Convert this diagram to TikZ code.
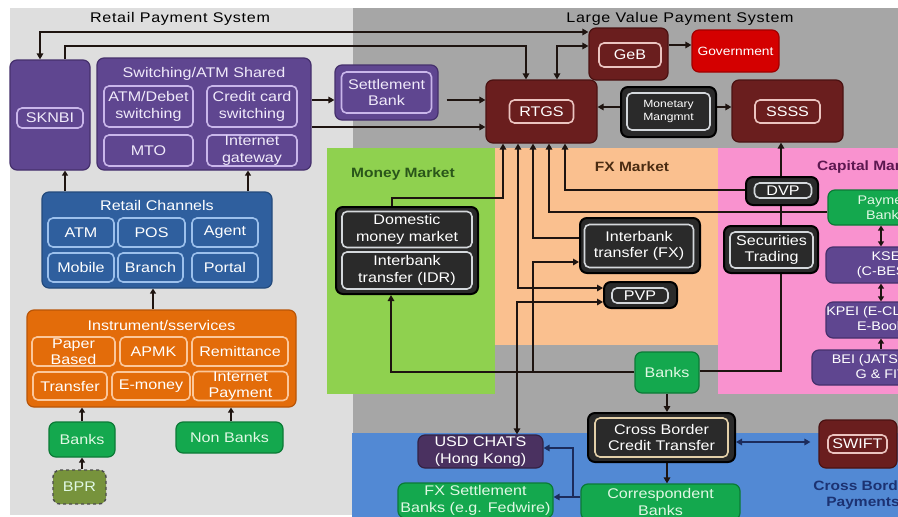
\documentclass[tikz,border=0pt]{standalone}
\usepackage{fontspec}
\setmainfont[FakeStretch=1.15]{Liberation Sans}
\newfontfamily\ttlfam[FakeStretch=1.15,LetterSpace=5]{Liberation Sans}
\usetikzlibrary{arrows.meta}

\newcommand\lblfont{\fontsize{14}{16.5}\selectfont}
\newcommand\cmfont{\fontsize{12.5}{15}\selectfont}
\newcommand\smfont{\fontsize{10.5}{12.5}\selectfont}
\newcommand\ttlfont{\ttlfam\fontsize{14}{16}\selectfont}
\newcommand\secfont{\bfseries\fontsize{13.5}{16}\selectfont}

\definecolor{pgray}{HTML}{DEDEDE}
\definecolor{dgray}{HTML}{A6A6A6}
\definecolor{mmgreen}{HTML}{8FD14F}
\definecolor{fxpeach}{HTML}{FAC08F}
\definecolor{cmpink}{HTML}{F992CF}
\definecolor{cbblue}{HTML}{5289D4}
\definecolor{purp}{HTML}{5F4690}
\definecolor{purpline}{HTML}{C9B6EA}
\definecolor{purpdark}{HTML}{45306C}
\definecolor{purptext}{HTML}{F0EAFA}
\definecolor{maroon}{HTML}{6A1E1E}
\definecolor{maroonline}{HTML}{EBC4C0}
\definecolor{maroondark}{HTML}{4A1212}
\definecolor{darkbox}{HTML}{2A2A2A}
\definecolor{darkline}{HTML}{D4D8DC}
\definecolor{cbline}{HTML}{E2CFA8}
\definecolor{gbox}{HTML}{14A84E}
\definecolor{gboxline}{HTML}{0B7A36}
\definecolor{gtext}{HTML}{E0F8E4}
\definecolor{rcblue}{HTML}{2F5F9E}
\definecolor{rcdark}{HTML}{234A7C}
\definecolor{rcline}{HTML}{9CC0EC}
\definecolor{orng}{HTML}{E36C0A}
\definecolor{ordark}{HTML}{B85508}
\definecolor{orline}{HTML}{FBC79B}
\definecolor{bprgreen}{HTML}{77933C}
\definecolor{govred}{HTML}{D40000}
\definecolor{govdark}{HTML}{A00000}
\definecolor{usdpurp}{HTML}{4A3160}
\definecolor{navy}{HTML}{1C2C5C}
\definecolor{lineblk}{HTML}{1E1410}
\definecolor{mmtext}{HTML}{2A561A}
\definecolor{fxtext}{HTML}{4A2C12}
\definecolor{cmtext}{HTML}{5C1850}
\definecolor{cbtext}{HTML}{1C3272}

\pgfdeclarelayer{bg}
\pgfdeclarelayer{mid}
\pgfsetlayers{bg,mid,main}

\tikzset{
  sz/.style 2 args={minimum width=#1, minimum height=#2},
  nbox/.style={rounded corners=7pt, inner sep=0pt, align=center, font=\lblfont, text=white, line width=1.2pt},
  ibox/.style={rounded corners=5pt, inner sep=0pt, align=center, font=\lblfont, text=white, line width=1.6pt},
  pout/.style={nbox, fill=purp, draw=purpdark},
  pin/.style={ibox, fill=purp, draw=purpline, text=purptext},
  mout/.style={nbox, fill=maroon, draw=maroondark},
  marin/.style={ibox, fill=maroon, draw=maroonline},
  dout/.style={nbox, fill=darkbox, draw=black, line width=2pt},
  din/.style={ibox, fill=darkbox, draw=darkline},
  gbx/.style={nbox, fill=gbox, draw=gboxline, text=gtext},
  bout/.style={nbox, fill=rcblue, draw=rcdark},
  bin/.style={ibox, fill=rcblue, draw=rcline},
  oout/.style={nbox, fill=orng, draw=ordark},
  oin/.style={ibox, fill=orng, draw=orline},
  cmbox/.style={nbox, fill=purp, draw=purpdark, font=\cmfont},
  conn/.style={line width=1.6pt, draw=lineblk},
  arr/.style={conn, -{Triangle[length=6pt,width=6.5pt]}},
  arrb/.style={conn, {Triangle[length=6pt,width=6.5pt]}-{Triangle[length=6pt,width=6.5pt]}},
  arrsm/.style={conn, -{Triangle[length=5pt,width=6pt]}},
  arrbsm/.style={conn, {Triangle[length=5pt,width=6pt]}-{Triangle[length=5pt,width=6pt]}},
  ttl/.style={font=\ttlfont, text=black, inner sep=0pt},
  sec/.style={font=\secfont, inner sep=0pt},
  lbl/.style={font=\lblfont, text=white, inner sep=0pt},
}

\begin{document}
\begin{tikzpicture}[x=1pt,y=-1pt]
\useasboundingbox (0,0) rectangle (898,517);
\clip (0,0) rectangle (898,517);

% ---------- regions ----------
\begin{pgfonlayer}{bg}
\fill[white] (0,0) rectangle (898,517);
\fill[pgray] (10,8) rectangle (353,515);
\fill[dgray] (353,8) rectangle (898,517);
\fill[mmgreen] (327,148) rectangle (495,394);
\fill[fxpeach] (495,148) rectangle (718,345);
\fill[cmpink] (718,148) rectangle (898,394);
\fill[cbblue] (352,433) rectangle (898,517);
\end{pgfonlayer}

% ---------- titles ----------
\node[ttl] (tretail) at (180,19) {Retail Payment System};
\node[ttl] (tlarge) at (680,19) {Large Value Payment System};
\node[sec, text=mmtext] (tmm) at (403,174) {Money Market};
\node[sec, text=fxtext] (tfx) at (632,167) {FX Market};
\node[sec, text=cmtext, anchor=west] (tcm) at (817,167) {Capital Market};
\node[sec, text=cbtext, align=center] (tcb) at (863,495) {Cross Border\\Payments};

% ---------- retail payment system ----------
\node[pout, sz={80pt}{110pt}] (sknbi) at (50,115) {};
\node[pin, sz={66pt}{20pt}] (sknbiin) at (50,118) {SKNBI};

\node[pout, sz={214pt}{112pt}] (switch) at (204,114) {};
\node[lbl, text=purptext] (switchttl) at (204,74) {Switching/ATM Shared};
\node[pin, sz={89pt}{41pt}] (atmdeb) at (148.5,106.5) {ATM/Debet\\switching};
\node[pin, sz={90pt}{41pt}] (ccsw) at (252,106.5) {Credit card\\switching};
\node[pin, sz={89pt}{31pt}] (mto) at (148.5,150.5) {MTO};
\node[pin, sz={90pt}{31pt}] (igw) at (252,150.5) {Internet\\gateway};

\node[pout, sz={103pt}{55pt}] (settle) at (386.5,92.5) {};
\node[pin, sz={90pt}{41pt}] (settlein) at (386.5,92.5) {Settlement\\Bank};

\node[bout, sz={230pt}{96pt}] (rchan) at (157,240) {};
\node[lbl] (rchanttl) at (157,205) {Retail Channels};
\node[bin, sz={66pt}{29pt}] (atm) at (81,232.5) {ATM};
\node[bin, sz={67pt}{29pt}] (pos) at (151.5,232.5) {POS};
\node[bin, sz={66pt}{29pt}] (agent) at (225,232.5) {Agent};
\node[bin, sz={66pt}{29pt}] (mobile) at (81,267.5) {Mobile};
\node[bin, sz={65pt}{29pt}] (branch) at (150.5,267.5) {Branch};
\node[bin, sz={66pt}{29pt}] (portal) at (225,267.5) {Portal};

\node[oout, sz={269pt}{97pt}] (instr) at (161.5,358.5) {};
\node[lbl] (instrttl) at (161.5,325) {Instrument/sservices};
\node[oin, sz={83pt}{29pt}] (paper) at (73.5,351.5) {Paper\\Based};
\node[oin, sz={67pt}{29pt}] (apmk) at (153.5,351.5) {APMK};
\node[oin, sz={96pt}{29pt}] (remit) at (240,351.5) {Remittance};
\node[oin, sz={74pt}{28pt}] (transfer) at (70,386) {Transfer};
\node[oin, sz={78pt}{28pt}] (emoney) at (151,386) {E-money};
\node[oin, sz={95pt}{28pt}] (ipay) at (240.5,386) {Internet\\Payment};

\node[gbx, sz={66pt}{35pt}] (banksl) at (82,439.5) {Banks};
\node[gbx, sz={107pt}{31pt}] (nonbanks) at (229.5,437.5) {Non Banks};
\node[nbox, fill=bprgreen, draw=black!70, dashed, line width=1.4pt, text=gtext, sz={53pt}{34pt}] (bpr) at (79.5,487) {BPR};

% ---------- large value payment system ----------
\node[mout, sz={111pt}{63pt}] (rtgs) at (541.5,111.5) {};
\node[marin, sz={64pt}{23pt}] (rtgsin) at (541.5,111.5) {RTGS};
\node[mout, sz={79pt}{52pt}] (geb) at (628.5,54) {};
\node[marin, sz={62pt}{24pt}] (gebin) at (630,55) {GeB};
\node[nbox, fill=govred, draw=govdark, font=\fontsize{12}{14}\selectfont, sz={87pt}{42pt}] (gov) at (735.5,51) {Government};
\node[dout, sz={95pt}{50pt}] (mon) at (668.5,112) {};
\node[din, font=\smfont, sz={83pt}{37pt}] (monin) at (668.5,111.5) {Monetary\\Mangmnt};
\node[mout, sz={111pt}{62pt}] (ssss) at (787.5,111) {};
\node[marin, sz={65pt}{23pt}] (ssssin) at (787.5,111.5) {SSSS};

% ---------- money market ----------
\node[dout, sz={142pt}{87pt}] (dom) at (407,250.5) {};
\node[din, sz={130pt}{36pt}] (domin) at (407,229.5) {Domestic\\money market};
\node[din, sz={130pt}{37pt}] (idr) at (407,270.5) {Interbank\\transfer (IDR)};

% ---------- FX market ----------
\node[dout, sz={120pt}{55pt}] (fxib) at (640,245.5) {};
\node[din, sz={109pt}{43pt}] (fxibin) at (639,246) {Interbank\\transfer (FX)};
\node[dout, sz={73pt}{26pt}] (pvp) at (640.5,295) {};
\node[din, sz={56pt}{15pt}] (pvpin) at (640,295.5) {PVP};
\node[gbx, sz={64pt}{41pt}] (banksfx) at (667,372.5) {Banks};

% ---------- capital market ----------
\node[dout, sz={72pt}{28pt}] (dvp) at (782,191) {};
\node[din, sz={57pt}{15pt}] (dvpin) at (783,190.5) {DVP};
\node[dout, sz={94pt}{47pt}] (sectr) at (771,249.5) {};
\node[din, sz={83pt}{36pt}] (sectrin) at (771.5,250) {Securities\\Trading};
\node[gbx, font=\cmfont, sz={116pt}{35pt}] (payb) at (886,207.5) {Payment\\Banks};
\node[cmbox, sz={124pt}{36pt}] (ksei) at (888,265) {KSEI\\(C-BEST)};
\node[cmbox, sz={114pt}{36pt}] (kpei) at (883,320) {KPEI (E-CLEARS\\E-Book)};
\node[cmbox, sz={152pt}{35pt}] (bei) at (888,367.5) {BEI (JATS NEXT-\\G \& FITS)};

% ---------- cross border ----------
\node[dout, sz={147pt}{49pt}] (cbct) at (661.5,437.5) {};
\node[din, draw=cbline, sz={133pt}{39pt}] (cbctin) at (661.5,437.5) {Cross Border\\Credit Transfer};
\node[gbx, sz={159pt}{36pt}] (corr) at (660.5,502) {Correspondent\\Banks};
\node[mout, sz={78pt}{48pt}] (swift) at (858,444) {};
\node[marin, sz={59pt}{18pt}] (swiftin) at (857.5,444) {SWIFT};
\node[nbox, fill=usdpurp, draw=usdpurp!70!black, sz={125pt}{33pt}] (usd) at (480.5,451.5) {USD CHATS\\(Hong Kong)};
\node[gbx, sz={155pt}{35pt}] (fxset) at (475.5,500.5) {FX Settlement\\Banks (e.g. Fedwire)};

\coordinate (jfx) at (533,372);
\coordinate (jcb) at (573,497);

% ---------- connectors ----------
\begin{pgfonlayer}{mid}
\draw[arrb] (sknbi.north -| 40,0) |- (geb.west |- 0,32);
\draw[arr] (sknbi.north -| 65,0) |- (526,46) -- (rtgs.north -| 526,0);
\draw[arrb] (rtgs.north -| 557,0) |- (geb.west |- 0,46);
\draw[arr] (switch.east |- 0,100) -- (settle.west |- 0,100);
\draw[arr, shorten <=8pt] (settle.east |- 0,100) -- (rtgs.west |- 0,100);
\draw[arr] (switch.east |- 0,127) -- (rtgs.west |- 0,127);
\draw[arr] (geb.east |- 0,45) -- (gov.west |- 0,45);
\draw[arr] (mon.west |- 0,107) -- (rtgs.east |- 0,107);
\draw[arr] (mon.east |- 0,107) -- (ssss.west |- 0,107);
\draw[arr] (banksfx.east |- 0,371) -| (ssss.south -| 781,0);

\draw[arr] (dom.north -| 392,0) |- (503,198) -- (rtgs.south -| 503,0);
\draw[arrb] (rtgs.south -| 518,0) |- (pvp.west |- 0,288);
\draw[arr] (fxib.west |- 0,238) -| (rtgs.south -| 533,0);
\draw[arr] (payb.west |- 0,212) -| (rtgs.south -| 549,0);
\draw[arr] (dvp.west |- 0,190) -| (rtgs.south -| 565,0);
\draw[arr] (banksfx.west |- 0,372) -| (dom.south -| 391,0);
\draw[arr] (jfx) |- (fxib.west |- 0,262);
\draw[arrb] (pvp.west |- 0,302) -| (usd.north -| 517,0);

\draw[arr] (banksfx.south) -- (cbct.north -| banksfx.south);
\draw[arr] (cbct.south -| banksfx.south) -- (corr.north -| banksfx.south);
\draw[arrb, draw=navy, shorten >=8pt] (cbct.east |- 0,442) -- (swift.west |- 0,442);
\draw[arr, draw=navy] (corr.west |- 0,497) -- (jcb) |- (usd.east |- 0,448);
\draw[arr, draw=navy] (jcb) -- (fxset.east |- 0,497);

\draw[arrsm] (rchan.north -| 65,0) -- (sknbi.south -| 65,0);
\draw[arrsm] (rchan.north -| 248,0) -- (switch.south -| 248,0);
\draw[arrsm] (instr.north -| 153,0) -- (rchan.south -| 153,0);
\draw[arrsm] (banksl.north) -- (instr.south -| banksl.north);
\draw[arrsm] (nonbanks.north -| 231,0) -- (instr.south -| 231,0);
\draw[arrsm] (bpr.north -| banksl.south) -- (banksl.south);

\draw[arrbsm] (payb.south -| 881,0) -- (ksei.north -| 881,0);
\draw[arrbsm] (ksei.south -| 881,0) -- (kpei.north -| 881,0);
\draw[arrsm] (bei.north -| 881,0) -- (kpei.south -| 881,0);
\end{pgfonlayer}
\end{tikzpicture}
\end{document}
